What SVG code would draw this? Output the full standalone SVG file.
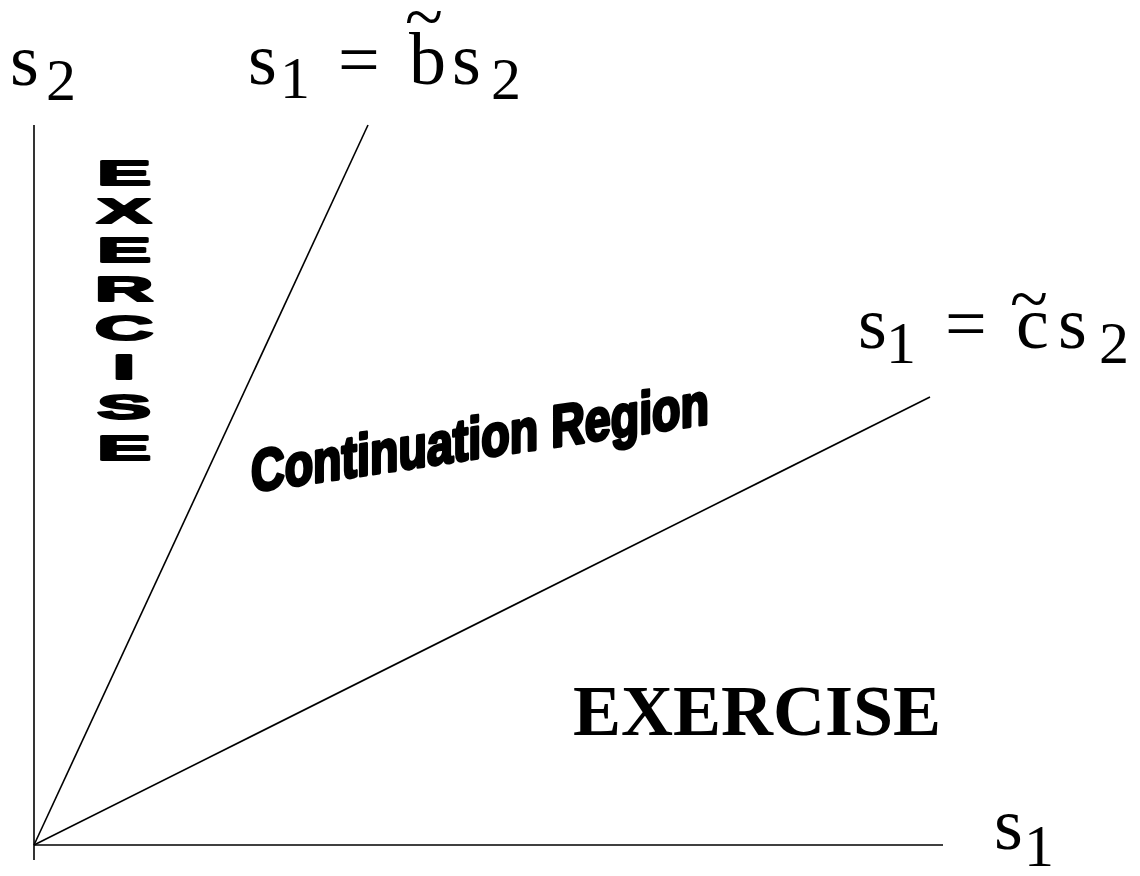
<svg xmlns="http://www.w3.org/2000/svg" width="1140" height="876" viewBox="0 0 1140 876">
<style>
.ax{stroke:#000;stroke-width:1.6;fill:none}
.m{font-family:"Liberation Serif","Times New Roman",serif;font-size:74px;fill:#000}
.sub{font-size:60px}
.tl{font-size:70px}
.vx{font-family:"Liberation Sans",Arial,sans-serif;font-weight:bold;font-size:35px;fill:#000;stroke:#000;stroke-width:2.2;stroke-linejoin:round;text-anchor:middle}
.cr{font-family:"Liberation Sans",Arial,sans-serif;font-weight:bold;font-size:59px;fill:#000;stroke:#000;stroke-width:3.4;stroke-linejoin:round}
.ex{font-family:"Liberation Serif","Times New Roman",serif;font-weight:bold;font-size:72px;fill:#000}
</style>
<rect width="1140" height="876" fill="#fff"/>
<g id="connectors">
<line class="ax" x1="34" y1="125" x2="34" y2="860"/>
<line class="ax" x1="34" y1="845" x2="943" y2="845"/>
<line class="ax" x1="34" y1="845" x2="368" y2="125"/>
<line class="ax" x1="34" y1="845" x2="930" y2="397"/>
</g>
<g id="label-s2">
<text class="m"><tspan x="10" y="85">s</tspan><tspan class="sub" x="46" y="100">2</tspan></text>
</g>
<g id="label-b">
<text class="m"><tspan x="248" y="84">s</tspan><tspan class="sub" x="280" y="98">1</tspan><tspan x="338" y="84">=</tspan><tspan x="409" y="84">b</tspan><tspan class="tl" x="405" y="40">~</tspan><tspan x="452" y="84">s</tspan><tspan class="sub" x="491" y="99">2</tspan></text>
</g>
<g id="label-c">
<text class="m"><tspan x="858" y="348">s</tspan><tspan class="sub" x="886" y="363">1</tspan><tspan x="945" y="348">=</tspan><tspan x="1016" y="348">c</tspan><tspan class="tl" x="1010" y="322">~</tspan><tspan x="1058" y="348">s</tspan><tspan class="sub" x="1099" y="363">2</tspan></text>
</g>
<g id="label-s1">
<text class="m"><tspan x="994" y="849">s</tspan><tspan class="sub" x="1024" y="866">1</tspan></text>
</g>
<g id="exercise-vertical">
<text class="vx" transform="translate(124,185) scale(2.3,1)">E</text>
<text class="vx" transform="translate(124,223) scale(2.3,1)">X</text>
<text class="vx" transform="translate(124,262) scale(2.3,1)">E</text>
<text class="vx" transform="translate(124,301) scale(2.3,1)">R</text>
<text class="vx" transform="translate(124,340) scale(2.3,1)">C</text>
<text class="vx" transform="translate(124,379) scale(2.3,1)">I</text>
<text class="vx" transform="translate(124,419) scale(2.3,1)">S</text>
<text class="vx" transform="translate(124,460) scale(2.3,1)">E</text>
</g>
<g id="continuation-region">
<text class="cr" transform="translate(251,492) skewY(-8.5)" x="0" y="0" textLength="458" lengthAdjust="spacingAndGlyphs">Continuation Region</text>
</g>
<g id="exercise-bottom">
<text class="ex" x="573" y="735">EXERCISE</text>
</g>
</svg>
